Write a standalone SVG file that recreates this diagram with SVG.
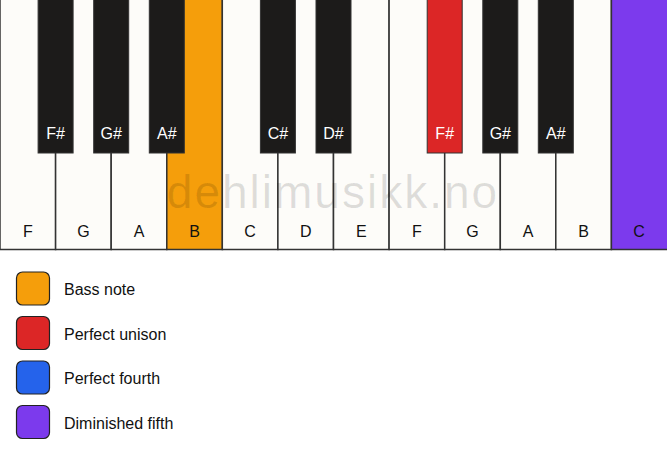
<svg xmlns="http://www.w3.org/2000/svg" width="667" height="461" viewBox="0 0 667 461">
<style>
.w{fill:#fdfcf9;stroke:#333;stroke-width:1.5}
.b{fill:#1c1b1a;stroke:#333;stroke-width:1}
.wl{font-family:"Liberation Sans",Arial,sans-serif;font-size:16px;fill:#111;text-anchor:middle}
.bl{font-family:"Liberation Sans",Arial,sans-serif;font-size:16px;fill:#fff;text-anchor:middle}
.lg{stroke:#222;stroke-width:1.2}
.lt{font-family:"Liberation Sans",Arial,sans-serif;font-size:16px;fill:#111}
</style>
<rect width="667" height="461" fill="#fff"/>
<g id="white-keys">
<g id="wF1"><rect class="w" x="0" y="-2" width="55.6" height="251.5"/><text class="wl" x="27.8" y="237">F</text></g>
<g id="wG1"><rect class="w" x="55.6" y="-2" width="55.6" height="251.5"/><text class="wl" x="83.4" y="237">G</text></g>
<g id="wA1"><rect class="w" x="111.2" y="-2" width="55.6" height="251.5"/><text class="wl" x="139" y="237">A</text></g>
<g id="wB1"><rect class="w" x="166.8" y="-2" width="55.6" height="251.5" style="fill:#f59e0b"/><text class="wl" x="194.6" y="237">B</text></g>
<g id="wC1"><rect class="w" x="222.3" y="-2" width="55.6" height="251.5"/><text class="wl" x="250.1" y="237">C</text></g>
<g id="wD1"><rect class="w" x="277.9" y="-2" width="55.6" height="251.5"/><text class="wl" x="305.7" y="237">D</text></g>
<g id="wE1"><rect class="w" x="333.5" y="-2" width="55.6" height="251.5"/><text class="wl" x="361.3" y="237">E</text></g>
<g id="wF2"><rect class="w" x="389.1" y="-2" width="55.6" height="251.5"/><text class="wl" x="416.9" y="237">F</text></g>
<g id="wG2"><rect class="w" x="444.7" y="-2" width="55.6" height="251.5"/><text class="wl" x="472.5" y="237">G</text></g>
<g id="wA2"><rect class="w" x="500.3" y="-2" width="55.6" height="251.5"/><text class="wl" x="528.1" y="237">A</text></g>
<g id="wB2"><rect class="w" x="555.8" y="-2" width="55.6" height="251.5"/><text class="wl" x="583.6" y="237">B</text></g>
<g id="wC2"><rect class="w" x="611.4" y="-2" width="56.6" height="251.5" style="fill:#7c3aed"/><text class="wl" x="639" y="237">C</text></g>
</g>
<text x="333" y="208" font-family="Liberation Sans,Arial,sans-serif" font-size="46" letter-spacing="2" fill="#000" fill-opacity="0.12" text-anchor="middle">dehlimusikk.no</text>
<g id="black-keys">
<g id="bFs1"><rect class="b" x="38.1" y="-2" width="35" height="155"/><text class="bl" x="55.6" y="139">F#</text></g>
<g id="bGs1"><rect class="b" x="93.7" y="-2" width="35" height="155"/><text class="bl" x="111.2" y="139">G#</text></g>
<g id="bAs1"><rect class="b" x="149.3" y="-2" width="35" height="155"/><text class="bl" x="166.8" y="139">A#</text></g>
<g id="bCs1"><rect class="b" x="260.4" y="-2" width="35" height="155"/><text class="bl" x="277.9" y="139">C#</text></g>
<g id="bDs1"><rect class="b" x="316" y="-2" width="35" height="155"/><text class="bl" x="333.5" y="139">D#</text></g>
<g id="bFs2"><rect class="b" x="427.2" y="-2" width="35" height="155" style="fill:#dc2626"/><text class="bl" x="444.7" y="139">F#</text></g>
<g id="bGs2"><rect class="b" x="482.8" y="-2" width="35" height="155"/><text class="bl" x="500.3" y="139">G#</text></g>
<g id="bAs2"><rect class="b" x="538.3" y="-2" width="35" height="155"/><text class="bl" x="555.8" y="139">A#</text></g>
</g>
<g id="legend">
<g id="lg1"><rect class="lg" x="16.5" y="272" width="33" height="33" rx="6" fill="#f59e0b"/><text class="lt" x="64" y="295">Bass note</text></g>
<g id="lg2"><rect class="lg" x="16.5" y="316.5" width="33" height="33" rx="6" fill="#dc2626"/><text class="lt" x="64" y="339.5">Perfect unison</text></g>
<g id="lg3"><rect class="lg" x="16.5" y="361" width="33" height="33" rx="6" fill="#2563eb"/><text class="lt" x="64" y="384">Perfect fourth</text></g>
<g id="lg4"><rect class="lg" x="16.5" y="405.5" width="33" height="33" rx="6" fill="#7c3aed"/><text class="lt" x="64" y="428.5">Diminished fifth</text></g>
</g>
</svg>
